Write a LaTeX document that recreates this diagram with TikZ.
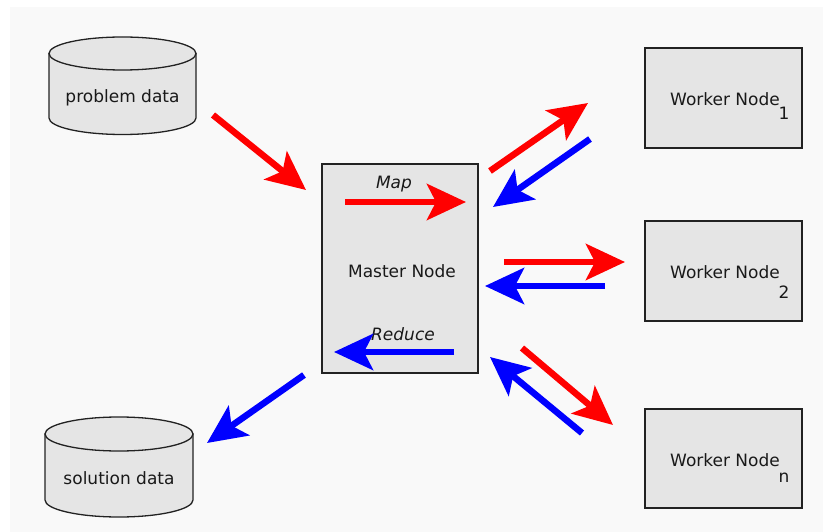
\documentclass[tikz,border=0pt]{standalone}
\usepackage{fontspec}
\setmainfont{DejaVu Sans}
\usetikzlibrary{arrows.meta}
\definecolor{bg}{HTML}{F9F9F9}
\definecolor{boxfill}{HTML}{E5E5E5}
\definecolor{edge}{HTML}{222222}
\tikzset{
  box/.style={draw=edge, line width=1.3pt, fill=boxfill},
  lbl/.style={font=\fontsize{17}{20}\selectfont, text=black!90, inner sep=0pt},
  bigarrow/.style={line width=6.5pt, -{Stealth[length=39pt, width=36pt, inset=9pt]}},
  redarrow/.style={bigarrow, red},
  bluearrow/.style={bigarrow, blue},
}
\begin{document}
\begin{tikzpicture}[x=1pt, y=-1pt]
\useasboundingbox (0,0) rectangle (823,532);
\fill[white] (0,0) rectangle (823,532);
\fill[bg] (10,7) rectangle (823,532);

% problem data cylinder
\path[box] (49,53.5) -- (49,118) arc[start angle=180, end angle=0, x radius=73.5, y radius=16.5] -- (196,53.5) -- cycle;
\draw[box] (122.5,53.5) ellipse[x radius=73.5, y radius=16.5];
\node[lbl] (problem) at (122.5,98) {problem data};

% solution data cylinder
\path[box] (45,434) -- (45,500) arc[start angle=180, end angle=0, x radius=74, y radius=17] -- (193,434) -- cycle;
\draw[box] (119,434) ellipse[x radius=74, y radius=17];
\node[lbl] (solution) at (119,478) {solution data};

% master node
\node[box, minimum width=156pt, minimum height=209pt, inner sep=0pt] (master) at (400,268.5) {};
\node[lbl] (mastertext) at (402,271) {Master Node};
\node[lbl, font=\fontsize{17}{20}\selectfont\itshape] (maplbl) at (394,184) {Map};
\node[lbl, font=\fontsize{17}{20}\selectfont\itshape] (reducelbl) at (403,334) {Reduce};

% worker nodes
\node[box, minimum width=157pt, minimum height=100pt, inner sep=0pt] (w1) at (723.5,98) {};
\node[lbl] (w1t) at (725,99) {Worker Node};
\node[lbl] (w1s) at (784,113) {1};
\node[box, minimum width=157pt, minimum height=100pt, inner sep=0pt] (w2) at (723.5,271) {};
\node[lbl] (w2t) at (725,272) {Worker Node};
\node[lbl] (w2s) at (784,292) {2};
\node[box, minimum width=157pt, minimum height=99pt, inner sep=0pt] (wn) at (723.5,458.5) {};
\node[lbl] (wnt) at (725,460) {Worker Node};
\node[lbl] (wns) at (784,478) {n};

% arrow end points
\coordinate (pa) at (213,115); \coordinate (pb) at (306,190);
\coordinate (sa) at (304,375); \coordinate (sb) at (207,443);
\coordinate (ma) at (345,202); \coordinate (mb) at (466,202);
\coordinate (ra) at (454,352); \coordinate (rb) at (334,352);
\coordinate (r1a) at (490,171); \coordinate (r1b) at (588,103);
\coordinate (b1a) at (590,139); \coordinate (b1b) at (493,207);
\coordinate (r2a) at (504,262); \coordinate (r2b) at (625,262);
\coordinate (b2a) at (605,286); \coordinate (b2b) at (485,286);
\coordinate (rna) at (522,348); \coordinate (rnb) at (613,425);
\coordinate (bna) at (582,433); \coordinate (bnb) at (490,357);

\draw[redarrow] (pa) -- (pb);
\draw[bluearrow] (sa) -- (sb);
\draw[redarrow] (ma) -- (mb);
\draw[bluearrow] (ra) -- (rb);
\draw[redarrow] (r1a) -- (r1b);
\draw[bluearrow] (b1a) -- (b1b);
\draw[redarrow] (r2a) -- (r2b);
\draw[bluearrow] (b2a) -- (b2b);
\draw[redarrow] (rna) -- (rnb);
\draw[bluearrow] (bna) -- (bnb);
\end{tikzpicture}
\end{document}
